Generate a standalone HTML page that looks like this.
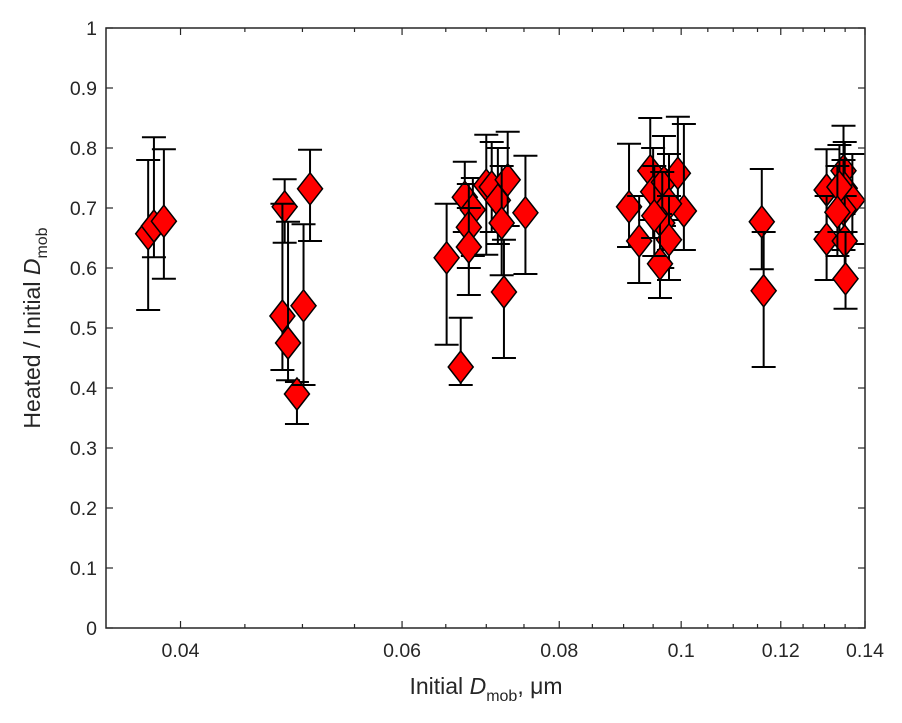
<!DOCTYPE html>
<html><head><meta charset="utf-8"><style>
body{margin:0;background:#fff;}
svg{display:block;font-family:"Liberation Sans",sans-serif;}
</style></head><body>
<svg id="chart" width="902" height="723" viewBox="0 0 902 723" xmlns="http://www.w3.org/2000/svg">
<rect x="0" y="0" width="902" height="723" fill="#fff"/>
<g id="bars"></g>
<g id="axes"></g>
<text x="486" y="694" font-size="23" fill="#262626" text-anchor="middle">Initial <tspan font-style="italic">D</tspan><tspan font-size="16" dy="7">mob</tspan><tspan dy="-7">, μm</tspan></text>
<text transform="translate(40,328) rotate(-90)" font-size="23" fill="#262626" text-anchor="middle">Heated / Initial <tspan font-style="italic">D</tspan><tspan font-size="16" dy="7">mob</tspan></text>
</svg>
<script>
const xVals=[0.0377,0.0381,0.0388,0.0484,0.0482,0.0487,0.0495,0.0501,0.0507,0.0651,0.0668,0.0673,0.0683,0.0678,0.0678,0.0700,0.0707,0.0715,0.0728,0.0720,0.0723,0.0752,0.0909,0.0926,0.0945,0.0950,0.0969,0.0994,0.1005,0.0978,0.0966,0.0978,0.0962,0.0952,0.1159,0.1163,0.1305,0.1305,0.1346,0.1349,0.1368,0.1346,0.1349,0.1351,0.1336,0.1331];
const yVals=[0.657,0.67,0.678,0.702,0.52,0.475,0.39,0.537,0.732,0.617,0.435,0.718,0.697,0.668,0.635,0.738,0.735,0.713,0.747,0.675,0.56,0.692,0.702,0.645,0.762,0.727,0.743,0.758,0.695,0.707,0.675,0.647,0.607,0.687,0.677,0.562,0.73,0.648,0.762,0.733,0.713,0.698,0.645,0.582,0.735,0.693];
const loVals=[0.53,0.618,0.582,0.642,0.43,0.413,0.34,0.405,0.645,0.472,0.405,0.66,0.62,0.6,0.555,0.622,0.66,0.64,0.67,0.588,0.45,0.59,0.635,0.575,0.68,0.65,0.67,0.68,0.63,0.63,0.6,0.58,0.55,0.62,0.598,0.435,0.66,0.58,0.69,0.66,0.64,0.63,0.58,0.532,0.66,0.62];
const hiVals=[0.78,0.818,0.798,0.748,0.707,0.677,0.41,0.673,0.797,0.707,0.517,0.777,0.75,0.74,0.7,0.822,0.81,0.8,0.827,0.77,0.647,0.787,0.807,0.72,0.85,0.8,0.82,0.852,0.84,0.79,0.76,0.72,0.69,0.77,0.765,0.66,0.798,0.72,0.837,0.81,0.79,0.78,0.72,0.66,0.805,0.77];
const yTicks=[0,0.1,0.2,0.3,0.4,0.5,0.6,0.7,0.8,0.9,1];
const yTickLabels=["0","0.1","0.2","0.3","0.4","0.5","0.6","0.7","0.8","0.9","1"];
const xTicks=[0.04,0.06,0.08,0.1,0.12,0.14];
const xTickLabels=["0.04","0.06","0.08","0.1","0.12","0.14"];
const xMinor=[0.045,0.05,0.055,0.065,0.07,0.075,0.085,0.09,0.095,0.105,0.11,0.115,0.125,0.13,0.135];

const L=106,R=865,T=28,B=628,XMIN=0.0349,XMAX=0.14;
function xs(v){return L+(R-L)*Math.log(v/XMIN)/Math.log(XMAX/XMIN);}
function ys(v){return B-(B-T)*v;}
const NS="http://www.w3.org/2000/svg";
function mk(tag,attrs,parent){const e=document.createElementNS(NS,tag);for(const k in attrs)e.setAttribute(k,attrs[k]);parent.appendChild(e);return e;}
const bars=document.getElementById('bars'),axes=document.getElementById('axes');
const C="#262626";
yTicks.forEach((t,i)=>{const y=ys(t);
 const a=mk('line',{x1:L,x2:L+7,y1:y,y2:y,stroke:C,'stroke-width':1.2},axes);
 
 
 const b=mk('line',{x1:R,x2:R-7,y1:y,y2:y,stroke:C,'stroke-width':1.2},axes);
 
 
 const tx=mk('text',{x:L-9,y:y+7,'font-size':19.5,fill:C,'text-anchor':'end'},axes);tx.textContent=yTickLabels[i];
 
 
});
xTicks.forEach((t,i)=>{const x=xs(t);
 const a=mk('line',{x1:x,x2:x,y1:B,y2:B-7,stroke:C,'stroke-width':1.2},axes);
 
 
 const b=mk('line',{x1:x,x2:x,y1:T,y2:T+7,stroke:C,'stroke-width':1.2},axes);
 
 
 const tx=mk('text',{x:x,y:B+29,'font-size':19.5,fill:C,'text-anchor':'middle'},axes);tx.textContent=xTickLabels[i];
 
 
});
xMinor.forEach(t=>{const x=xs(t);
 const a=mk('line',{x1:x,x2:x,y1:B,y2:B-4,stroke:C,'stroke-width':1.2},axes);
 
 
 const b=mk('line',{x1:x,x2:x,y1:T,y2:T+4,stroke:C,'stroke-width':1.2},axes);
 
 
});
const box=mk('rect',{x:L,y:T,width:R-L,height:B-T,fill:'none',stroke:C,'stroke-width':1.5},axes);


xVals.forEach((xv,i)=>{const x=xs(xv),y=ys(yVals[i]),lo=ys(loVals[i]),hi=ys(hiVals[i]);
 const g=mk('g',{},bars);
 
 
 mk('path',{d:`M${x},${lo}V${hi}M${x-12},${lo}H${x+12}M${x-12},${hi}H${x+12}`,stroke:'#000','stroke-width':2,fill:'none'},g);
 mk('path',{d:`M${x},${y-16}L${x+12.5},${y}L${x},${y+16}L${x-12.5},${y}Z`,fill:'#ff0000',stroke:'#000','stroke-width':1.5},g);
});
</script>
</body></html>
